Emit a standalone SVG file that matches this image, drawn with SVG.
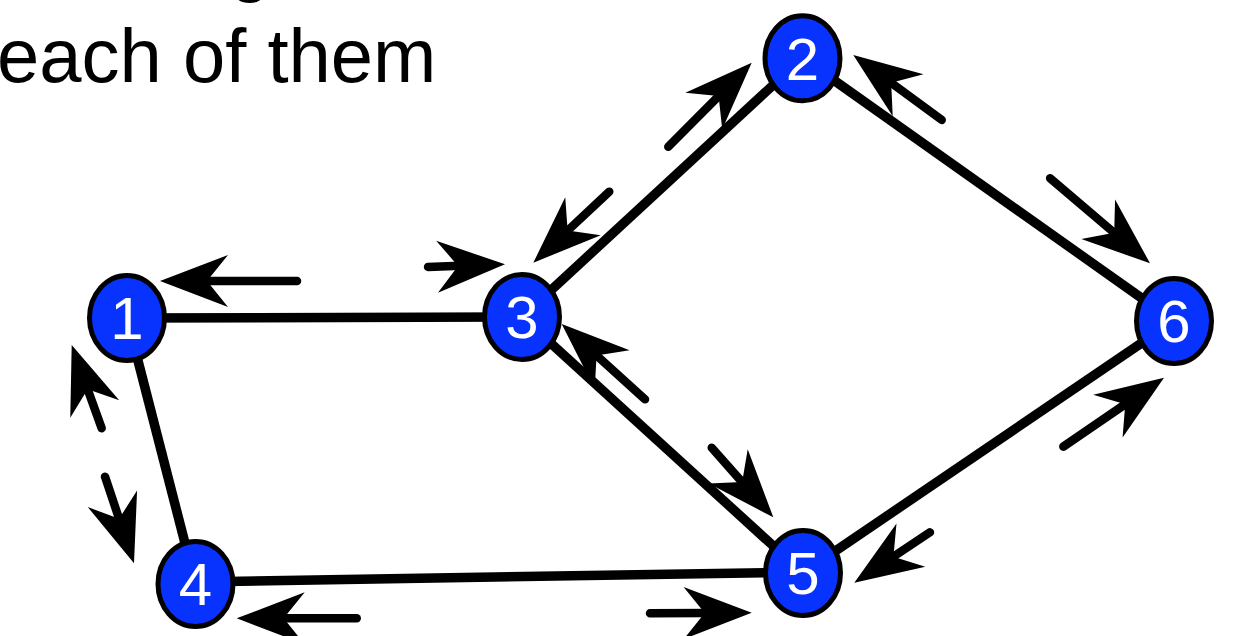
<svg xmlns="http://www.w3.org/2000/svg" xmlns:xlink="http://www.w3.org/1999/xlink" width="1241" height="636" viewBox="0 0 1241 636">
<style>
.txt{font-family:"Liberation Sans",Arial,Helvetica,sans-serif;fill:#000}
.edge{stroke:#000;stroke-width:9.5;fill:none}
.shaft{stroke:#000;stroke-width:8.5;stroke-linecap:round;fill:none}
.node ellipse{fill:#0833ff;stroke:#000;stroke-width:5}
.node text{font-family:"Liberation Sans",Arial,Helvetica,sans-serif;font-size:60px;fill:#fff;text-anchor:middle}
</style>
<defs>
<polygon id="head" points="0,0 -68,-26 -47,0 -68,26" fill="#000"/>
</defs>
<rect width="1241" height="636" fill="#fff"/>
<text class="txt" x="229" y="-13" font-size="76">g</text>
<text class="txt" x="-3" y="82" font-size="76">each of them</text>
<g id="connectors">
<line class="edge" x1="127" y1="318" x2="522" y2="317"/>
<line class="edge" x1="127" y1="318" x2="195.5" y2="584"/>
<line class="edge" x1="522" y1="317" x2="802.5" y2="58"/>
<line class="edge" x1="802.5" y1="58" x2="1174" y2="321"/>
<line class="edge" x1="522" y1="317" x2="803" y2="573"/>
<line class="edge" x1="1174" y1="321" x2="803" y2="573"/>
<line class="edge" x1="195.5" y1="582" x2="803" y2="572"/>
<g transform="translate(160,281) rotate(180)"><line class="shaft" x1="-137" y1="0" x2="-45" y2="0"/><use xlink:href="#head"/></g>
<g transform="translate(505,264.3) rotate(-2)"><line class="shaft" x1="-77" y1="0" x2="-45" y2="0"/><use xlink:href="#head"/></g>
<g transform="translate(533.3,262.7) rotate(136.95)"><line class="shaft" x1="-104" y1="0" x2="-45" y2="0"/><use xlink:href="#head"/></g>
<g transform="translate(751.7,62.7) rotate(-45.2)"><line class="shaft" x1="-118.4" y1="0" x2="-45" y2="0"/><use xlink:href="#head"/></g>
<g transform="translate(853.3,55) rotate(-143.7)"><line class="shaft" x1="-109.7" y1="0" x2="-45" y2="0"/><use xlink:href="#head"/></g>
<g transform="translate(1150,263.3) rotate(40.4)"><line class="shaft" x1="-131.2" y1="0" x2="-45" y2="0"/><use xlink:href="#head"/></g>
<g transform="translate(1164,377.7) rotate(-34.4)"><line class="shaft" x1="-122" y1="0" x2="-45" y2="0"/><use xlink:href="#head"/></g>
<g transform="translate(854.3,582.7) rotate(146.35)"><line class="shaft" x1="-90.9" y1="0" x2="-45" y2="0"/><use xlink:href="#head"/></g>
<g transform="translate(773.3,517.3) rotate(48.5)"><line class="shaft" x1="-92.9" y1="0" x2="-45" y2="0"/><use xlink:href="#head"/></g>
<g transform="translate(561.7,324) rotate(-137.9)"><line class="shaft" x1="-112.3" y1="0" x2="-45" y2="0"/><use xlink:href="#head"/></g>
<g transform="translate(751.7,612.7) rotate(-0.3)"><line class="shaft" x1="-101.7" y1="0" x2="-45" y2="0"/><use xlink:href="#head"/></g>
<g transform="translate(236.7,618.3) rotate(180)"><line class="shaft" x1="-120" y1="0" x2="-45" y2="0"/><use xlink:href="#head"/></g>
<g transform="translate(71.7,345) rotate(-109.8)"><line class="shaft" x1="-88.5" y1="0" x2="-45" y2="0"/><use xlink:href="#head"/></g>
<g transform="translate(134,563.3) rotate(71.5)"><line class="shaft" x1="-91.3" y1="0" x2="-45" y2="0"/><use xlink:href="#head"/></g>
</g>
<g id="node1" class="node"><ellipse cx="127" cy="318" rx="37.5" ry="42.5"/><text x="127" y="339">1</text></g>
<g id="node2" class="node"><ellipse cx="802.5" cy="58.3" rx="37.5" ry="42.5"/><text x="802.5" y="79.5">2</text></g>
<g id="node3" class="node"><ellipse cx="522" cy="317" rx="37.5" ry="42.5"/><text x="522" y="338">3</text></g>
<g id="node4" class="node"><ellipse cx="195.5" cy="584" rx="37.5" ry="42.5"/><text x="195.5" y="605">4</text></g>
<g id="node5" class="node"><ellipse cx="803" cy="573" rx="37.5" ry="42.5"/><text x="803" y="594">5</text></g>
<g id="node6" class="node"><ellipse cx="1174" cy="321" rx="37.5" ry="42.5"/><text x="1174" y="342">6</text></g>
</svg>
